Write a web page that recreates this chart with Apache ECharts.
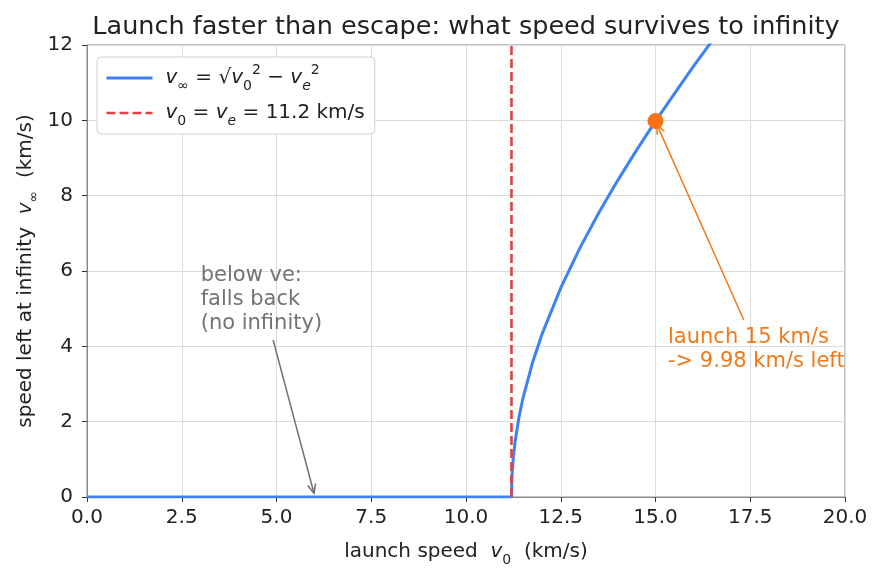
<!DOCTYPE html>
<html>
<head>
<meta charset="utf-8">
<script src="https://cdn.jsdelivr.net/npm/echarts@6/dist/echarts.min.js"></script>
<style>
  html, body { margin: 0; padding: 0; background: #fff; }
  #chart { width: 883px; height: 577px; }
</style>
</head>
<body>
<div id="chart"></div>
<script>
// values
const escapeSpeed = 11.2;
const launchSpeed = [0, 11.2, 11.21, 11.22, 11.25, 11.3, 11.4, 11.5, 11.75, 12, 12.5, 13, 13.5, 14, 14.5, 15, 15.5, 16, 16.5];
const speedAtInfinity = [0, 0, 0.47, 0.67, 1.06, 1.50, 2.13, 2.61, 3.55, 4.31, 5.55, 6.60, 7.54, 8.40, 9.21, 9.98, 10.71, 11.43, 12.12];
const highlight = [15, 9.98];
const xTicks = [0, 2.5, 5, 7.5, 10, 12.5, 15, 17.5, 20];
const yTicks = [0, 2, 4, 6, 8, 10, 12];

// annotation arrows and their texts (data coords)
const arrows = [
  { from: [4.91, 4.17], to: [5.99, 0.1], color: '#6f6f6f' },
  { from: [17.33, 4.70], to: [15.04, 9.88], color: '#ee7a1c' }
];
const notes = [
  { at: [3.0, 4.29], text: 'below ve:\nfalls back\n(no infinity)', color: '#737373' },
  { at: [15.33, 3.28], text: 'launch 15 km/s\n-> 9.98 km/s left', color: '#ee7a1c' }
];

const FONT = '"DejaVu Sans", sans-serif';
const FS = 20;
const chart = echarts.init(document.getElementById('chart'));

const curve = launchSpeed.map((x, i) => [x, speedAtInfinity[i]]);

const mathRich = {
  m: { fontFamily: FONT, fontSize: FS, color: '#222', lineHeight: 30 },
  i: { fontFamily: FONT, fontSize: FS, color: '#222', fontStyle: 'italic', lineHeight: 30 },
  sub: { fontFamily: FONT, fontSize: 14, color: '#222', lineHeight: 21, verticalAlign: 'bottom' },
  subi: { fontFamily: FONT, fontSize: 14, color: '#222', fontStyle: 'italic', lineHeight: 21, verticalAlign: 'bottom' },
  sup: { fontFamily: FONT, fontSize: 14, color: '#222', lineHeight: 16, verticalAlign: 'top' }
};

chart.setOption({
  animation: false,
  backgroundColor: '#fff',
  title: {
    text: 'Launch faster than escape: what speed survives to infinity',
    left: 461, top: 9, textAlign: 'center',
    textStyle: { fontFamily: FONT, fontSize: 25.5, fontWeight: 'normal', color: '#222' }
  },
  grid: {
    left: 87, right: 38, top: 45, bottom: 80,
    show: true, borderColor: '#888', borderWidth: 1
  },
  legend: {
    orient: 'vertical', left: 97, top: 57,
    padding: [6, 10, 6, 8],
    itemGap: 10, itemWidth: 46, itemHeight: 14,
    backgroundColor: '#fff', borderColor: '#cfcfcf', borderWidth: 1, borderRadius: 4,
    itemStyle: { opacity: 0 },
    data: [
      { name: 'vinf', lineStyle: { width: 3 } },
      { name: 'vline', lineStyle: { width: 2.6 } }
    ],
    formatter: function (name) {
      if (name === 'vinf') {
        return '{i|v}{sub|∞}{m| = √}{i|v}{sub|0}{sup|2}{m| − }{i|v}{subi|e}{sup|2}';
      }
      return '{i|v}{sub|0}{m| = }{i|v}{subi|e}{m| = 11.2 km/s}';
    },
    textStyle: { fontFamily: FONT, fontSize: FS, color: '#222', padding: [0, 0, 0, 8], rich: mathRich }
  },
  xAxis: {
    type: 'value', min: 0, max: 20, interval: 2.5,
    name: 'launch speed  {i|v}{sub|0}  (km/s)',
    nameLocation: 'middle', nameGap: 40,
    nameTextStyle: { fontFamily: FONT, fontSize: FS, color: '#222', rich: mathRich },
    axisLine: { lineStyle: { color: '#888' } },
    axisTick: { show: true, length: 5, lineStyle: { color: '#333' } },
    axisLabel: {
      fontFamily: FONT, fontSize: FS, color: '#222', margin: 11,
      formatter: v => xTicks.includes(v) ? v.toFixed(1) : ''
    },
    splitLine: { lineStyle: { color: '#dcdcdc', width: 1 } }
  },
  yAxis: {
    type: 'value', min: 0, max: 12, interval: 2,
    name: 'speed left at infinity  {i|v}{sub|∞}  (km/s)',
    nameLocation: 'middle', nameGap: 46, nameMoveOverlap: false,
    nameTextStyle: { fontFamily: FONT, fontSize: FS, color: '#222', rich: mathRich },
    axisLine: { show: true, lineStyle: { color: '#888' } },
    axisTick: { show: true, length: 5, lineStyle: { color: '#333' } },
    axisLabel: {
      fontFamily: FONT, fontSize: FS, color: '#222', margin: 14,
      formatter: v => yTicks.includes(v) ? String(v) : ''
    },
    splitLine: { lineStyle: { color: '#dcdcdc', width: 1 } }
  },
  series: [
    {
      name: 'vinf', type: 'line', data: curve,
      symbol: 'none', clip: true, z: 3,
      lineStyle: { color: '#3b82f6', width: 3 },
      itemStyle: { color: '#3b82f6' }
    },
    {
      name: 'vline', type: 'line',
      data: [[escapeSpeed, 0], [escapeSpeed, 12]],
      symbol: 'none', z: 4,
      lineStyle: { color: '#dc4343', width: 2.6, type: [9, 4] },
      itemStyle: { color: '#dc4343' }
    },
    {
      name: 'pt', type: 'scatter', data: [highlight],
      symbolSize: 16, z: 6,
      itemStyle: { color: '#f97316', opacity: 1 }
    },
    {
      name: 'arrows', type: 'custom', z: 5, silent: true,
      data: arrows.map(a => [a.from[0], a.from[1], a.to[0], a.to[1]]),
      renderItem: function (params, api) {
        const a = arrows[params.dataIndex];
        const p1 = api.coord([api.value(0), api.value(1)]);
        const p2 = api.coord([api.value(2), api.value(3)]);
        const ang = Math.atan2(p2[1] - p1[1], p2[0] - p1[0]);
        const L = 10, spread = 0.42;
        const h1 = [p2[0] - L * Math.cos(ang - spread), p2[1] - L * Math.sin(ang - spread)];
        const h2 = [p2[0] - L * Math.cos(ang + spread), p2[1] - L * Math.sin(ang + spread)];
        return {
          type: 'group',
          children: [
            { type: 'line', shape: { x1: p1[0], y1: p1[1], x2: p2[0], y2: p2[1] },
              style: { stroke: a.color, lineWidth: 1.5 } },
            { type: 'polyline', shape: { points: [h1, p2, h2] },
              style: { stroke: a.color, lineWidth: 1.5, fill: null } }
          ]
        };
      }
    },
    {
      name: 'notes', type: 'custom', z: 5, silent: true,
      data: notes.map(n => n.at),
      renderItem: function (params, api) {
        const n = notes[params.dataIndex];
        const p = api.coord([api.value(0), api.value(1)]);
        return {
          type: 'text',
          style: {
            x: p[0], y: p[1], text: n.text,
            fill: n.color, font: '21px ' + FONT, lineHeight: 24,
            align: 'left', verticalAlign: 'bottom'
          }
        };
      }
    }
  ]
});
</script>
</body>
</html>
